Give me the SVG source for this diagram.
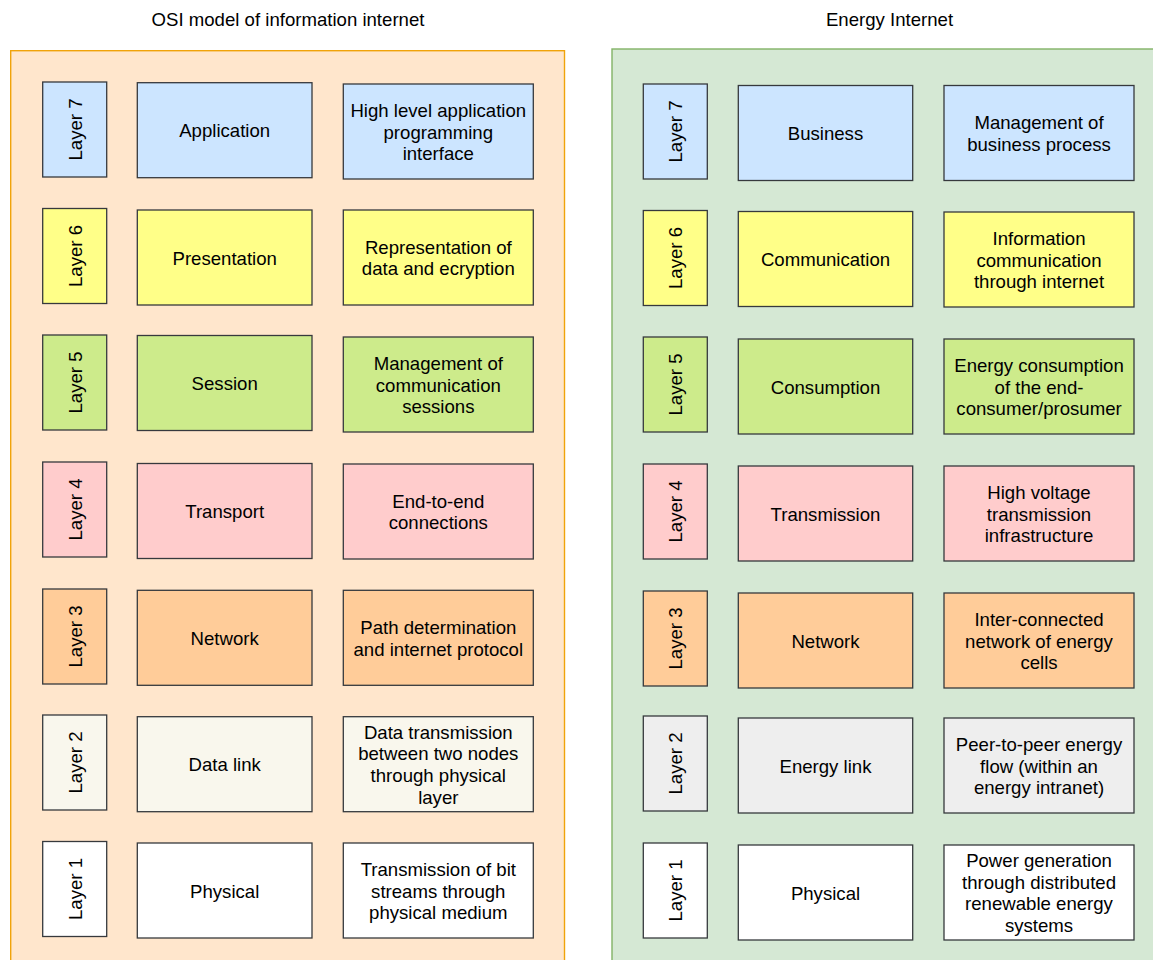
<svg xmlns="http://www.w3.org/2000/svg" width="1153" height="960" viewBox="0 0 1153 960">
<style>
text{font-family:"Liberation Sans",Arial,sans-serif;font-size:18.6px;fill:#000;text-anchor:middle}
.b{stroke:#36393d;stroke-width:1.3}
.c7{fill:#cce5ff}.c6{fill:#ffff88}.c5{fill:#cdeb8b}.c4{fill:#ffcccc}.c3{fill:#ffcc99}.c2l{fill:#f9f7ed}.c2r{fill:#eeeeee}.c1{fill:#ffffff}
</style>
<rect width="1153" height="960" fill="#ffffff"/>
<g id="titles">
<text x="288" y="26">OSI model of information internet</text>
<text x="889.5" y="26">Energy Internet</text>
</g>
<g id="panel-osi"><rect x="10.7" y="50.7" width="553.8" height="930" fill="#ffe6cc" stroke="#f0a30a" stroke-width="1.4"/></g>
<g id="panel-energy"><rect x="612" y="49" width="560" height="930" fill="#d5e8d4" stroke="#82b366" stroke-width="1.4"/></g>

<!-- OSI column -->
<g id="osi-l7-layer"><rect class="b c7" x="42.7" y="82" width="64" height="95"/><text transform="translate(74.7,129.5) rotate(-90)" y="7">Layer 7</text></g>
<g id="osi-l7-name"><rect class="b c7" x="137.3" y="82.7" width="174.7" height="95"/><text x="224.7" y="137.2">Application</text></g>
<g id="osi-l7-desc"><rect class="b c7" x="343.3" y="84" width="190" height="95"/><text x="438.3" y="116.7">High level application</text><text x="438.3" y="138.5">programming</text><text x="438.3" y="160.3">interface</text></g>

<g id="osi-l6-layer"><rect class="b c6" x="42.7" y="208.5" width="64" height="95"/><text transform="translate(74.7,256) rotate(-90)" y="7">Layer 6</text></g>
<g id="osi-l6-name"><rect class="b c6" x="137.3" y="210" width="174.7" height="95"/><text x="224.7" y="264.5">Presentation</text></g>
<g id="osi-l6-desc"><rect class="b c6" x="343.3" y="210" width="190" height="95"/><text x="438.3" y="253.6">Representation of</text><text x="438.3" y="275.4">data and ecryption</text></g>

<g id="osi-l5-layer"><rect class="b c5" x="42.7" y="335" width="64" height="95"/><text transform="translate(74.7,382.5) rotate(-90)" y="7">Layer 5</text></g>
<g id="osi-l5-name"><rect class="b c5" x="137.3" y="335.5" width="174.7" height="95"/><text x="224.7" y="390">Session</text></g>
<g id="osi-l5-desc"><rect class="b c5" x="343.3" y="337" width="190" height="95"/><text x="438.3" y="369.7">Management of</text><text x="438.3" y="391.5">communication</text><text x="438.3" y="413.3">sessions</text></g>

<g id="osi-l4-layer"><rect class="b c4" x="42.7" y="462" width="64" height="95"/><text transform="translate(74.7,509.5) rotate(-90)" y="7">Layer 4</text></g>
<g id="osi-l4-name"><rect class="b c4" x="137.3" y="463.5" width="174.7" height="95"/><text x="224.7" y="518">Transport</text></g>
<g id="osi-l4-desc"><rect class="b c4" x="343.3" y="464" width="190" height="95"/><text x="438.3" y="507.6">End-to-end</text><text x="438.3" y="529.4">connections</text></g>

<g id="osi-l3-layer"><rect class="b c3" x="42.7" y="589" width="64" height="95"/><text transform="translate(74.7,636.5) rotate(-90)" y="7">Layer 3</text></g>
<g id="osi-l3-name"><rect class="b c3" x="137.3" y="590.3" width="174.7" height="95"/><text x="224.7" y="644.8">Network</text></g>
<g id="osi-l3-desc"><rect class="b c3" x="343.3" y="590.3" width="190" height="95"/><text x="438.3" y="633.9">Path determination</text><text x="438.3" y="655.7">and internet protocol</text></g>

<g id="osi-l2-layer"><rect class="b c2l" x="42.7" y="715" width="64" height="95"/><text transform="translate(74.7,762.5) rotate(-90)" y="7">Layer 2</text></g>
<g id="osi-l2-name"><rect class="b c2l" x="137.3" y="716.7" width="174.7" height="95"/><text x="224.7" y="771.2">Data link</text></g>
<g id="osi-l2-desc"><rect class="b c2l" x="343.3" y="716.7" width="190" height="95"/><text x="438.3" y="738.5">Data transmission</text><text x="438.3" y="760.3">between two nodes</text><text x="438.3" y="782.1">through physical</text><text x="438.3" y="803.9">layer</text></g>

<g id="osi-l1-layer"><rect class="b c1" x="42.7" y="841.5" width="64" height="95"/><text transform="translate(74.7,889) rotate(-90)" y="7">Layer 1</text></g>
<g id="osi-l1-name"><rect class="b c1" x="137.3" y="843" width="174.7" height="95"/><text x="224.7" y="897.5">Physical</text></g>
<g id="osi-l1-desc"><rect class="b c1" x="343.3" y="843" width="190" height="95"/><text x="438.3" y="875.7">Transmission of bit</text><text x="438.3" y="897.5">streams through</text><text x="438.3" y="919.3">physical medium</text></g>

<!-- Energy column -->
<g id="ei-l7-layer"><rect class="b c7" x="643.3" y="84" width="64" height="95"/><text transform="translate(675.3,131.5) rotate(-90)" y="7">Layer 7</text></g>
<g id="ei-l7-name"><rect class="b c7" x="738.3" y="85.5" width="174.4" height="95"/><text x="825.5" y="140">Business</text></g>
<g id="ei-l7-desc"><rect class="b c7" x="944" y="85.5" width="190" height="95"/><text x="1039" y="129.1">Management of</text><text x="1039" y="150.9">business process</text></g>

<g id="ei-l6-layer"><rect class="b c6" x="643.3" y="210.5" width="64" height="95"/><text transform="translate(675.3,258) rotate(-90)" y="7">Layer 6</text></g>
<g id="ei-l6-name"><rect class="b c6" x="738.3" y="211.5" width="174.4" height="95"/><text x="825.5" y="266">Communication</text></g>
<g id="ei-l6-desc"><rect class="b c6" x="944" y="212" width="190" height="95"/><text x="1039" y="244.7">Information</text><text x="1039" y="266.5">communication</text><text x="1039" y="288.3">through internet</text></g>

<g id="ei-l5-layer"><rect class="b c5" x="643.3" y="337" width="64" height="95"/><text transform="translate(675.3,384.5) rotate(-90)" y="7">Layer 5</text></g>
<g id="ei-l5-name"><rect class="b c5" x="738.3" y="339" width="174.4" height="95"/><text x="825.5" y="393.5">Consumption</text></g>
<g id="ei-l5-desc"><rect class="b c5" x="944" y="339" width="190" height="95"/><text x="1039" y="371.7">Energy consumption</text><text x="1039" y="393.5">of the end-</text><text x="1039" y="415.3">consumer/prosumer</text></g>

<g id="ei-l4-layer"><rect class="b c4" x="643.3" y="464" width="64" height="95"/><text transform="translate(675.3,511.5) rotate(-90)" y="7">Layer 4</text></g>
<g id="ei-l4-name"><rect class="b c4" x="738.3" y="466" width="174.4" height="95"/><text x="825.5" y="520.5">Transmission</text></g>
<g id="ei-l4-desc"><rect class="b c4" x="944" y="466" width="190" height="95"/><text x="1039" y="498.7">High voltage</text><text x="1039" y="520.5">transmission</text><text x="1039" y="542.3">infrastructure</text></g>

<g id="ei-l3-layer"><rect class="b c3" x="643.3" y="591" width="64" height="95"/><text transform="translate(675.3,638.5) rotate(-90)" y="7">Layer 3</text></g>
<g id="ei-l3-name"><rect class="b c3" x="738.3" y="593" width="174.4" height="95"/><text x="825.5" y="647.5">Network</text></g>
<g id="ei-l3-desc"><rect class="b c3" x="944" y="593" width="190" height="95"/><text x="1039" y="625.7">Inter-connected</text><text x="1039" y="647.5">network of energy</text><text x="1039" y="669.3">cells</text></g>

<g id="ei-l2-layer"><rect class="b c2r" x="643.3" y="716" width="64" height="95"/><text transform="translate(675.3,763.5) rotate(-90)" y="7">Layer 2</text></g>
<g id="ei-l2-name"><rect class="b c2r" x="738.3" y="718" width="174.4" height="95"/><text x="825.5" y="772.5">Energy link</text></g>
<g id="ei-l2-desc"><rect class="b c2r" x="944" y="718" width="190" height="95"/><text x="1039" y="750.7">Peer-to-peer energy</text><text x="1039" y="772.5">flow (within an</text><text x="1039" y="794.3">energy intranet)</text></g>

<g id="ei-l1-layer"><rect class="b c1" x="643.3" y="843" width="64" height="95"/><text transform="translate(675.3,890.5) rotate(-90)" y="7">Layer 1</text></g>
<g id="ei-l1-name"><rect class="b c1" x="738.3" y="845" width="174.4" height="95"/><text x="825.5" y="899.5">Physical</text></g>
<g id="ei-l1-desc"><rect class="b c1" x="944" y="845" width="190" height="95"/><text x="1039" y="866.8">Power generation</text><text x="1039" y="888.6">through distributed</text><text x="1039" y="910.4">renewable energy</text><text x="1039" y="932.2">systems</text></g>

<g id="connectors"></g>
</svg>
